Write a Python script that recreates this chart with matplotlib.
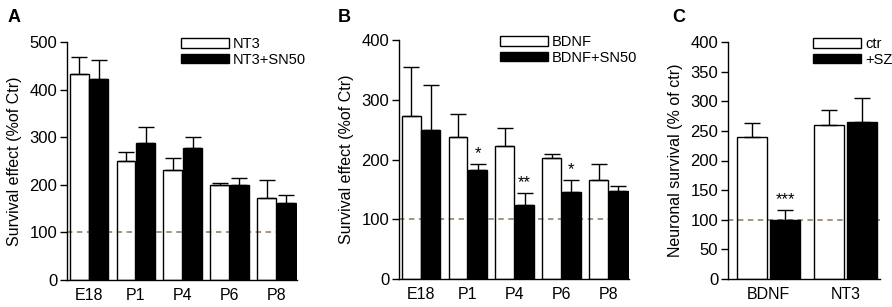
import matplotlib
matplotlib.use("Agg")
import matplotlib.pyplot as plt
import numpy as np

plt.rcParams['font.family'] = ['Liberation Sans', 'DejaVu Sans']

# Panel A: NT3
groups_a = ['E18', 'P1', 'P4', 'P6', 'P8']
nt3 = [433, 250, 231, 199, 173]
nt3_err = [36, 18, 25, 4, 38]
nt3_sn50 = [423, 287, 278, 199, 161]
nt3_sn50_err = [39, 35, 23, 16, 17]

# Panel B: BDNF
groups_b = ['E18', 'P1', 'P4', 'P6', 'P8']
bdnf = [273, 237, 222, 203, 165]
bdnf_err = [81, 39, 31, 6, 27]
bdnf_sn50 = [250, 183, 124, 146, 148]
bdnf_sn50_err = [75, 10, 20, 20, 7]
stars_b = ['', '*', '**', '*', '']

# Panel C: ctr vs +SZ
groups_c = ['BDNF', 'NT3']
ctr = [239, 260]
ctr_err = [25, 25]
sz = [100, 265]
sz_err = [17, 41]
stars_c = ['***', '']

W, H = 892, 307
fig = plt.figure(figsize=(W / 100, H / 100), dpi=100)

DASH = '#9c8c74'


def panel(rect, cats, v1, e1, v2, e2, lab1, lab2, ylim, ystep, ylabel,
          width, off, xlim, leg_x, stars=None):
    l, r, t, b = rect
    ax = fig.add_axes([l / W, 1 - b / H, (r - l) / W, (b - t) / H])
    x = np.arange(len(cats))
    ax.axhline(100, color=DASH, lw=1.3, ls=(0, (3, 2.5)), zorder=1)
    ax.bar(x - off, v1, width, facecolor='none', edgecolor='black', lw=1.0,
           zorder=2, label=lab1)
    ax.bar(x + off, v2, width, facecolor='black', edgecolor='black', lw=1.0,
           zorder=2, label=lab2)
    ax.errorbar(x - off, v1, yerr=[np.zeros(len(e1)), e1], fmt='none',
                ecolor='black', elinewidth=1.0, capsize=6, capthick=1.0, zorder=3)
    ax.errorbar(x + off, v2, yerr=[np.zeros(len(e2)), e2], fmt='none',
                ecolor='black', elinewidth=1.0, capsize=6, capthick=1.0, zorder=3)
    if stars:
        for xi, v, e, s in zip(x, v2, e2, stars):
            if s:
                ax.text(xi + off, v + e + ylim * 0.01, s, ha='center',
                        va='bottom', fontsize=12)
    ax.set_xlim(*xlim)
    ax.set_ylim(0, ylim)
    ax.set_yticks(np.arange(0, ylim + 1, ystep))
    ax.set_xticks(x)
    ax.set_xticklabels(cats)
    ax.tick_params(axis='x', length=0, pad=6, labelsize=11.5)
    ax.tick_params(axis='y', length=5, width=1.0, pad=2, labelsize=12)
    for s in ['top', 'right']:
        ax.spines[s].set_visible(False)
    for s in ['left', 'bottom']:
        ax.spines[s].set_linewidth(1.0)
    ax.set_ylabel(ylabel, fontsize=11.5, labelpad=5)
    ax.legend(loc='upper left', bbox_to_anchor=(leg_x, 1.02), frameon=False,
              fontsize=10.5, handlelength=3.3, handleheight=0.6,
              labelspacing=0.1, handletextpad=0.25, borderpad=0,
              borderaxespad=0)
    return ax


panel((67, 297, 42, 280), groups_a, nt3, nt3_err, nt3_sn50, nt3_sn50_err,
      'NT3', 'NT3+SN50', 500, 100, 'Survival effect (%of Ctr)',
      0.40, 0.21, (-0.47, 4.44), 0.495)
panel((399, 629, 40, 279), groups_b, bdnf, bdnf_err, bdnf_sn50, bdnf_sn50_err,
      'BDNF', 'BDNF+SN50', 400, 100, 'Survival effect (%of Ctr)',
      0.40, 0.21, (-0.47, 4.44), 0.44, stars_b)
panel((728, 880, 42, 279), groups_c, ctr, ctr_err, sz, sz_err,
      'ctr', '+SZ', 400, 50, 'Neuronal survival (% of ctr)',
      0.39, 0.215, (-0.53, 1.45), 0.56, stars_c)

for lab, px in [('A', 8), ('B', 338), ('C', 672)]:
    fig.text(px / W, 1 - 18 / H, lab, fontsize=13, fontweight='bold',
             ha='left', va='center')

fig.savefig('out.png', dpi=100)
